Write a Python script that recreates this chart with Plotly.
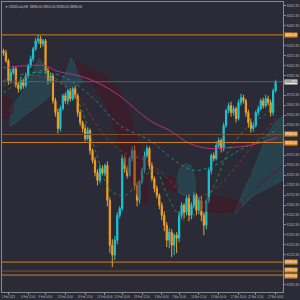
import plotly.graph_objects as go

# ---------------- data ----------------
close = [34180, 34100, 33900, 33980, 34020, 33860, 33820, 33900, 33850, 33950,
         34050, 34120, 34220, 34300, 34320, 34270, 34300, 34000, 33900, 33950,
         33700, 33580, 33420, 33620, 33750, 33700, 33800, 33720, 33820, 33750,
         33580, 33480, 33420, 33320, 33400, 33200, 33100, 32980, 32900, 33020,
         32970, 33050, 32700, 32250, 32150, 32300, 32550, 32620, 33120, 33020,
         32950, 33120, 33200, 32850, 32700, 32880, 33000, 33150, 33220, 33050,
         32920, 32820, 32750, 32650, 32550, 32450, 32300, 32380, 32250, 32350,
         32320, 32550, 32650, 32580, 32720, 32550, 32650, 32750, 32600, 32700,
         32550, 32450, 32700, 33000, 33150, 33120, 33250, 33300, 33220, 33450,
         33600, 33650, 33580, 33620, 33520, 33680, 33730, 33700, 33580, 33480,
         33420, 33450, 33580, 33620, 33700, 33650, 33720, 33680, 33580, 33800,
         33890]
first_open = 34200
wick_up = [20, 30, 20, 40, 30, 20, 30, 40, 20, 30,
           20, 30, 20, 30, 40, 30, 20, 20, 30, 30,
           20, 30, 40, 30, 20, 30, 20, 30, 20, 30,
           20, 30, 20, 40, 30, 20, 20, 30, 30, 40,
           30, 20, 40, 30, 60, 40, 30, 20, 40, 30,
           30, 20, 40, 50, 30, 20, 30, 40, 30, 20,
           30, 20, 30, 20, 30, 40, 30, 40, 30, 20,
           30, 40, 30, 20, 30, 40, 30, 30, 20, 30,
           40, 30, 20, 30, 20, 30, 40, 30, 20, 30,
           20, 30, 40, 30, 20, 30, 40, 30, 20, 30,
           40, 30, 20, 30, 20, 30, 40, 30, 30, 20,
           20]
wick_dn = [30, 20, 40, 30, 20, 30, 40, 20, 30, 20,
           30, 20, 30, 20, 30, 40, 30, 30, 40, 20,
           30, 40, 50, 30, 20, 30, 40, 30, 20, 30,
           40, 30, 40, 30, 20, 40, 30, 40, 50, 30,
           20, 30, 60, 80, 120, 50, 40, 30, 30, 40,
           30, 20, 30, 50, 60, 30, 20, 30, 20, 40,
           30, 40, 30, 40, 50, 60, 70, 80, 120, 100,
           150, 40, 30, 60, 30, 60, 40, 30, 50, 40,
           60, 100, 40, 30, 40, 30, 20, 30, 40, 30,
           20, 30, 40, 30, 40, 20, 30, 30, 40, 50,
           40, 30, 20, 30, 20, 30, 20, 30, 40, 30,
           20]

x_ticks = [2, 10, 17, 25, 33, 41, 48, 56, 64, 71, 79, 87, 95, 102, 110]
x_labels = ["1 Feb 2023", "6 Feb 12:00", "9 Feb 04:00", "13 Feb 20:00", "16 Feb 12:00",
            "21 Feb 04:00", "23 Feb 20:00", "28 Feb 12:00", "3 Mar 04:00", "7 Mar 20:00",
            "10 Mar 12:00", "15 Mar 04:00", "17 Mar 20:00", "22 Mar 12:00", "27 Mar 04:00"]

levels_bright = [34360, 33280, 32080, 31950]
levels_dim = [33360, 31990]
current_price = 33890

ma_slow_x = [0, 17.2, 21.2, 33.2, 45.2, 59.2, 67.2, 75.2, 83.2, 91.2, 99.2, 110.8]
ma_slow_y = [34030, 34050, 34000, 33930, 33780, 33500, 33400, 33270, 33220, 33230, 33250, 33330]
ma_fast_x = [0, 7.2, 15.2, 21.2, 29.2, 37.2, 43.2, 49.2, 55.2, 61.2, 67.2, 73.2, 79.2, 85.2, 91.2, 99.2, 105.2, 110]
ma_fast_y = [33780, 33900, 34000, 33920, 33730, 33200, 32800, 32750, 32900, 33000, 32700, 32500, 32600, 32850, 33200, 33450, 33550, 33650]
ma_mid_x = [0, 11.2, 21.2, 31.2, 39.2, 47.2, 57.2, 65.2, 73.2, 81.2, 89.2, 99.2, 110]
ma_mid_y = [33850, 33950, 33900, 33700, 33400, 33200, 33100, 32950, 32750, 32750, 32900, 33200, 33520]
ma_teal_x = [0, 11.2, 23.2, 35.2, 47.2, 59.2, 69.2, 77.2, 85.2, 95.2, 103.2, 110]
ma_teal_y = [33900, 33980, 33950, 33750, 33450, 33300, 33100, 33000, 33050, 33200, 33300, 33400]

teal_clouds = [
    ([2.4, 5.2, 8, 10.4, 12.4, 14.4, 16, 17.6, 18.8, 18.8, 16.8, 14.4, 11.2, 8, 5.2, 2.4],
     [33620, 33700, 33800, 33900, 34020, 34130, 34080, 33980, 33880, 33750, 33700, 33660, 33600, 33540, 33480, 33440]),
    ([23.2, 25.6, 27.2, 28.8, 30.4, 32, 29.2, 25.2],
     [33880, 34000, 34130, 34080, 33980, 33880, 33850, 33840]),
    ([69.6, 71.2, 73.6, 76, 77.6, 77.6, 73.6, 70.4],
     [32850, 33020, 33070, 33050, 32900, 32750, 32750, 32780]),
    ([93.6, 97.2, 100, 103.2, 106.4, 109.6, 113, 113, 109.2, 105.2, 101.2, 97.2, 93.6],
     [32580, 32800, 32950, 33150, 33350, 33480, 33550, 32900, 32850, 32800, 32750, 32650, 32560]),
]
red_clouds = [
    ([-0.6, 1.6, 4, 4, 1.6, -0.6],
     [33740, 33750, 33680, 33580, 33520, 33520]),
    ([29.2, 33.2, 37.2, 41.2, 45.2, 49.2, 52, 55.2, 58.4, 58.4, 55.2, 52, 49.2, 46.4, 43.2, 39.2, 35.2, 31.2, 29.2],
     [34100, 34050, 34000, 33950, 33850, 33700, 33500, 33250, 33050, 32650, 32700, 32850, 33050, 33300, 33550, 33750, 33880, 33950, 34000]),
    ([64.4, 67.2, 70.4, 70.4, 67.2, 64.4],
     [32920, 32950, 32900, 32780, 32800, 32840]),
    ([79.2, 85.2, 91.2, 96, 96, 91.2, 85.2, 79.2],
     [32700, 32740, 32720, 32680, 32600, 32580, 32580, 32600]),
]
span_b_x = [97.2, 103.2, 113]
span_b_y = [32700, 32850, 33050]

# ---------------- derived candles ----------------
opens = [first_open] + close[:-1]
highs = [max(o, c) + w for o, c, w in zip(opens, close, wick_up)]
lows = [min(o, c) - w for o, c, w in zip(opens, close, wick_dn)]
idx = list(range(len(close)))

BG = "#2a2b37"
CYAN = "#1cc6d4"
ORANGE = "#f0a024"
FONT = "Liberation Sans"

# price-axis ticks every 100, hidden where a level label sits on top
all_levels = levels_bright + levels_dim + [current_price]
y_ticks = []
v = 34652.8
while v > 31780:
    if all(abs(v - lv) > 45 for lv in all_levels):
        y_ticks.append(round(v, 2))
    v -= 100

fig = go.Figure()

for xs, ys in teal_clouds:
    fig.add_trace(go.Scatter(x=xs, y=ys, fill="toself", mode="lines",
                             line=dict(width=0.5, color="rgba(40,130,140,0.45)"),
                             fillcolor="rgba(35,115,125,0.32)", hoverinfo="skip"))
for xs, ys in red_clouds:
    fig.add_trace(go.Scatter(x=xs, y=ys, fill="toself", mode="lines",
                             line=dict(width=0.5, color="rgba(90,15,30,0.6)"),
                             fillcolor="rgba(85,12,28,0.4)", hoverinfo="skip"))
fig.add_trace(go.Scatter(x=span_b_x, y=span_b_y, mode="lines",
                         line=dict(width=1, color="#5e1a26")))

fig.add_trace(go.Scatter(x=ma_teal_x, y=ma_teal_y, mode="lines",
                         line=dict(width=0.8, color="#2a9aa0", dash="dot", shape="spline")))
fig.add_trace(go.Scatter(x=ma_mid_x, y=ma_mid_y, mode="lines",
                         line=dict(width=0.8, color="#a83838", dash="dot", shape="spline")))
fig.add_trace(go.Scatter(x=ma_fast_x, y=ma_fast_y, mode="lines",
                         line=dict(width=0.8, color="#2e9a44", dash="dot", shape="spline")))
fig.add_trace(go.Scatter(x=ma_slow_x, y=ma_slow_y, mode="lines",
                         line=dict(width=1, color="#b8307c", shape="spline")))

fig.add_trace(go.Candlestick(
    x=idx, open=opens, high=highs, low=lows, close=close,
    increasing=dict(line=dict(color=CYAN, width=1), fillcolor=CYAN),
    decreasing=dict(line=dict(color=ORANGE, width=1), fillcolor=ORANGE),
    whiskerwidth=0))

for lv in levels_bright:
    fig.add_hline(y=lv, line=dict(color="#d67f1e", width=1))
for lv in levels_dim:
    fig.add_hline(y=lv, line=dict(color="#7e5230", width=1))
fig.add_hline(y=current_price, line=dict(color="#5c5d6b", width=1))

label_shift = {33360: 0.5, 33280: -0.5, 31990: 1, 31950: -1}
for lv in levels_bright + levels_dim:
    fig.add_annotation(x=1.003, xref="paper", y=lv, yref="y", xanchor="left",
                       yshift=label_shift.get(lv, 0),
                       text=f"{lv:.2f}", showarrow=False, bgcolor="#e08a1c",
                       font=dict(size=2.9, color="#ffffff", family=FONT), borderpad=0)
fig.add_annotation(x=1.003, xref="paper", y=current_price, yref="y", xanchor="left",
                   text=f"{current_price:.2f}", showarrow=False, bgcolor="#e8e8e8",
                   font=dict(size=2.9, color="#202020", family=FONT), borderpad=0)

fig.add_annotation(x=0.005, xref="paper", y=0.995, yref="paper", xanchor="left", yanchor="top",
                   text=f"▼ US30Cash,H4  {close[-1]:.2f} {highs[-1]:.2f} {lows[-1]:.2f} {close[-1]:.2f}",
                   showarrow=False, font=dict(size=3, color="#cfcfcf", family=FONT))

fig.update_layout(
    width=300, height=300,
    margin=dict(l=1, r=15, t=1, b=8),
    paper_bgcolor=BG, plot_bgcolor=BG,
    showlegend=False,
    font=dict(family=FONT),
    xaxis=dict(range=[-0.6, 113], rangeslider=dict(visible=False),
               tickvals=x_ticks, ticktext=x_labels, tickangle=0,
               tickfont=dict(size=2.6, color="#b8b8b8", family=FONT),
               ticks="outside", ticklen=2, tickcolor="#8a8a8a",
               showgrid=False, zeroline=False,
               showline=True, mirror=True, linecolor="#8a8a8a", linewidth=1),
    yaxis=dict(range=[31780, 34690], side="right",
               tickvals=y_ticks, tickformat=".2f",
               tickfont=dict(size=3, color="#b8b8b8", family=FONT),
               ticks="outside", ticklen=2, tickcolor="#8a8a8a",
               showgrid=False, zeroline=False,
               showline=True, mirror=True, linecolor="#8a8a8a", linewidth=1),
)

fig.write_html("out.html")
